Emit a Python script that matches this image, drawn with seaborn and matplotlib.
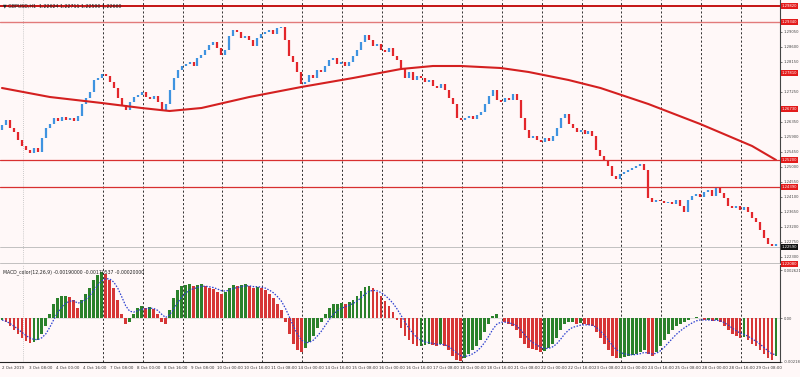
import numpy as np
import pandas as pd
import matplotlib.pyplot as plt
import seaborn as sns

# H1 closes, one per bar (open = previous close)
first_open = 1.2610
closes = [
    1.2625, 1.2640, 1.2616, 1.2604, 1.2580, 1.2562, 1.2550, 1.2541, 1.2556, 1.2544,
    1.2586, 1.2616, 1.2628, 1.2646, 1.2637, 1.2649, 1.2640, 1.2646, 1.2637, 1.2652,
    1.2688, 1.2706, 1.2724, 1.2760, 1.2766, 1.2778, 1.2772, 1.2754, 1.2736, 1.2706,
    1.2685, 1.2670, 1.2694, 1.2709, 1.2715, 1.2724, 1.2709, 1.2703, 1.2712, 1.2694,
    1.2670, 1.2688, 1.2730, 1.2766, 1.2790, 1.2802, 1.2808, 1.2814, 1.2802, 1.2826,
    1.2835, 1.2850, 1.2865, 1.2874, 1.2856, 1.2835, 1.2850, 1.2892, 1.2910, 1.2904,
    1.2886, 1.2892, 1.2880, 1.2862, 1.2886, 1.2898, 1.2904, 1.2910, 1.2898, 1.2916,
    1.2919, 1.2880, 1.2832, 1.2814, 1.2784, 1.2748, 1.2754, 1.2775, 1.2766, 1.2790,
    1.2784, 1.2802, 1.2820, 1.2826, 1.2808, 1.2814, 1.2802, 1.2814, 1.2832, 1.2850,
    1.2874, 1.2895, 1.2880, 1.2862, 1.2868, 1.2850, 1.2844, 1.2856, 1.2832, 1.2820,
    1.2796, 1.2766, 1.2784, 1.2760, 1.2772, 1.2766, 1.2754, 1.2760, 1.2742, 1.2736,
    1.2748, 1.2730, 1.2706, 1.2688, 1.2646, 1.2640, 1.2646, 1.2652, 1.2643, 1.2655,
    1.2664, 1.2688, 1.2712, 1.2730, 1.2700, 1.2694, 1.2706, 1.2700, 1.2718, 1.2700,
    1.2646, 1.2610, 1.2586, 1.2592, 1.2580, 1.2574, 1.2586, 1.2577, 1.2592, 1.2616,
    1.2646, 1.2658, 1.2628, 1.2616, 1.2604, 1.2610, 1.2598, 1.2607, 1.2592, 1.2550,
    1.2532, 1.2520, 1.2502, 1.2472, 1.2463, 1.2478, 1.2484, 1.2490, 1.2496, 1.2502,
    1.2508, 1.2490, 1.2406, 1.2394, 1.2400, 1.2397, 1.2391, 1.2394, 1.2388, 1.2400,
    1.2382, 1.2364, 1.2400, 1.2412, 1.2418, 1.2409, 1.2424, 1.2430, 1.2412, 1.2436,
    1.2421, 1.2406, 1.2382, 1.2376, 1.2382, 1.2370, 1.2379, 1.2364, 1.2346, 1.2334,
    1.2310, 1.2286, 1.2268, 1.2262, 1.2268,
]

# long moving average (sampled at bars)
ma_bars = [0, 12, 25, 35, 42, 50, 62, 75, 88, 100, 108, 115, 125, 132, 142, 150, 162, 175, 188, 194]
ma_values = [1.2736, 1.2709, 1.2691, 1.2676, 1.2667, 1.2676, 1.2709, 1.2739, 1.2766, 1.2793,
             1.2802, 1.2802, 1.2796, 1.2784, 1.2760, 1.2736, 1.2688, 1.2628, 1.2562, 1.2520]

# MACD histogram in points (1 point = 0.00001)
macd_pts = [
    -10, -20, -40, -60, -80, -100, -115, -125, -120, -110,
    -80, -40, 20, 70, 100, 110, 110, 105, 90, 50,
    90, 120, 150, 190, 215, 230, 220, 190, 150, 90,
    20, -30, -20, 20, 50, 60, 50, 55, 45, 20,
    -20, -30, 40, 100, 140, 160, 165, 170, 160, 165,
    170, 160, 150, 145, 130, 120, 130, 150, 165, 160,
    165, 170, 160, 150, 155, 150, 140, 120, 100, 70,
    40, -20, -80, -130, -160, -170, -150, -120, -90, -50,
    -20, 20, 50, 70, 70, 75, 70, 80, 90, 110,
    135, 155, 160, 150, 130, 110, 85, 60, 30, -10,
    -50, -90, -110, -130, -140, -140, -135, -130, -135, -140,
    -130, -140, -160, -190, -210, -215, -200, -180, -160, -140,
    -110, -70, -30, 10, 20, 0, -20, -30, -40, -60,
    -100, -130, -150, -155, -160, -170, -165, -150, -130, -100,
    -60, -30, -20, -20, -30, -25, -30, -35, -40, -70,
    -100, -130, -160, -190, -200, -200, -195, -190, -185, -180,
    -170, -160, -180, -190, -170, -140, -110, -80, -60, -40,
    -30, -20, -10, 0, 5, 0, -10, -10, -15, -10,
    -20, -40, -60, -80, -90, -100, -95, -110, -130, -140,
    -160, -180, -200, -210, -190,
]

x_labels = ["2 Oct 2019", "3 Oct 08:00", "4 Oct 00:00", "4 Oct 16:00", "7 Oct 08:00",
            "8 Oct 00:00", "8 Oct 16:00", "9 Oct 08:00", "10 Oct 00:00", "10 Oct 16:00",
            "11 Oct 08:00", "14 Oct 00:00", "14 Oct 16:00", "15 Oct 08:00", "16 Oct 00:00",
            "16 Oct 16:00", "17 Oct 08:00", "18 Oct 00:00", "18 Oct 16:00", "21 Oct 08:00",
            "22 Oct 00:00", "22 Oct 16:00", "23 Oct 08:00", "24 Oct 00:00", "24 Oct 16:00",
            "25 Oct 08:00", "28 Oct 00:00", "28 Oct 16:00", "29 Oct 08:00"]

level_prices = [1.2982, 1.2934, 1.2520, 1.2439]
tag_prices = [1.2781, 1.2673]
bid_price = 1.2259
ask_price = 1.2208

sns.set_style('white')
plt.rcParams['font.family'] = ['DejaVu Sans']

bg = '#fff8f8'
up_col, dn_col = '#3f93e0', '#e3262b'
fs = 2.7
fig = plt.figure(figsize=(8, 3.77), dpi=100, facecolor=bg)
ax = fig.add_axes([0, 1 - 263 / 377, 780 / 800, 263 / 377], facecolor=bg)
ax2 = fig.add_axes([0, 1 - 362 / 377, 780 / 800, 97 / 377], facecolor=bg)

n = len(closes)
idx = np.arange(n)
opens = [first_open] + closes[:-1]
cols = [up_col if c >= o else dn_col for o, c in zip(opens, closes)]
ax.vlines(idx, opens, closes, colors=cols, lw=1.6)

sns.lineplot(x=ma_bars, y=ma_values, color='#d42020', lw=1.5, ax=ax)

ax.axhline(level_prices[0], color='#c00000', lw=1.3)
ax.axhline(level_prices[1], color='#e27a7a', lw=1.0)
ax.axhline(level_prices[2], color='#d83030', lw=0.9)
ax.axhline(level_prices[3], color='#d83030', lw=0.9)
ax.axhline(bid_price, color='#b8b8b8', lw=0.6)

# MACD panel
df = pd.DataFrame({'bar': idx, 'macd': np.array(macd_pts) / 1e5})
df['dir'] = np.where(df['macd'].diff().fillna(0) >= 0, 'up', 'down')
sns.barplot(data=df, x='bar', y='macd', hue='dir', palette={'up': '#1d8f1d', 'down': '#f01c1c'},
            dodge=False, width=0.7, errorbar=None, legend=False, ax=ax2, linewidth=0)
signal = df['macd'].ewm(span=5).mean()
ax2.plot(idx, signal, color='#2b3fd0', ls=(0, (1.2, 1.2)), lw=0.9)

for a in (ax, ax2):
    a.set_xlim(-0.5, n)
    for s in np.arange(25.25, n, 10):
        a.axvline(s, color='#111111', ls=(0, (2.5, 2.5)), lw=0.6, zorder=0)
    a.axvline(5.25, color='#bbbbbb', ls=(0, (1, 1.5)), lw=0.6, zorder=0)
    for sp in ['top', 'left']:
        a.spines[sp].set_visible(False)
    a.spines['right'].set_color('#444444')
    a.spines['right'].set_linewidth(0.8)
    a.yaxis.tick_right()
    a.tick_params(axis='y', labelsize=fs, length=1.5, width=0.5, pad=1, colors='#444444')
    a.set_xlabel('')
    a.set_ylabel('')

ax.set_ylim(1.2211, 1.3000)
all_tags = level_prices + tag_prices + [bid_price, ask_price]
yt = [v for v in np.arange(1.2950, 1.2215, -0.0045)
      if min(abs(v - t) for t in all_tags) > 0.0016]
ax.set_yticks(yt)
ax.set_yticklabels([f'{v:.5f}' for v in yt])
ax.set_xticks([])
ax.spines['bottom'].set_color('#aaaaaa')
ax.spines['bottom'].set_linewidth(0.5)

ax2.set_ylim(-0.0022, 0.00265)
ax2.set_yticks([0.0024, 0.0, -0.00218])
ax2.set_yticklabels(['0.002621', '0.00', '-0.00218'])
ax2.axhline(0, color='#cccccc', lw=0.4, zorder=0)
ax2.spines['bottom'].set_color('#222222')
ax2.spines['bottom'].set_linewidth(0.8)
ax2.set_xticks(np.arange(0, n, 6.75))
ax2.set_xticklabels(x_labels, fontsize=2.9, ha='left', color='#333333')
ax2.tick_params(axis='x', length=1.5, width=0.5, pad=1.5)


def tag(a, y, fc, txt_col='white'):
    a.text(1.002, y, f'{y:.5f}', transform=a.get_yaxis_transform(), fontsize=fs,
           color=txt_col, va='center', ha='left', clip_on=False, zorder=5,
           bbox=dict(boxstyle='square,pad=0.15', fc=fc, ec='none'))


for p in level_prices + tag_prices:
    tag(ax, p, '#e31a1a')
tag(ax, bid_price, '#111111')
tag(ax, ask_price, '#e31a1a')

fig.text(0.004, 1 - 6 / 377, '▼ GBPUSD,H1  1.22624 1.22711 1.22590 1.22660',
         fontsize=3.4, va='center', color='#222222')
fig.text(0.004, 1 - 272 / 377, 'MACD_color(12,26,9) -0.00190000 -0.00170537 -0.00020000',
         fontsize=3.3, va='center', color='#222222')

fig.savefig('out.png', dpi=100, facecolor=bg)
